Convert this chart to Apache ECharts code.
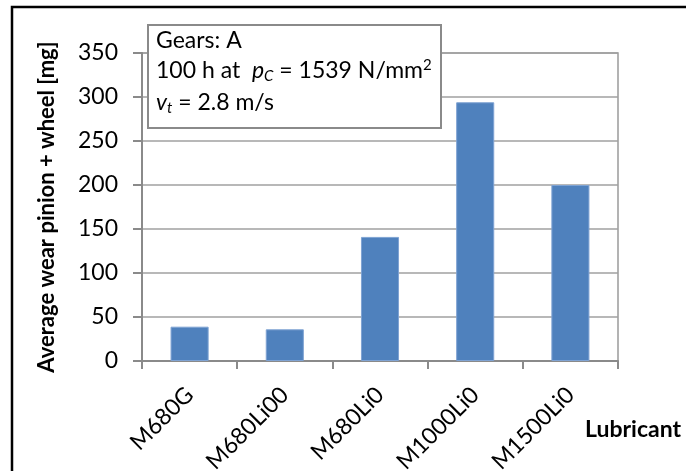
<!DOCTYPE html>
<html><head><meta charset="utf-8">
<script src="https://cdn.jsdelivr.net/npm/echarts@6/dist/echarts.min.js"></script>
<style>html,body{margin:0;padding:0;background:#fff}#c{width:686px;height:471px}</style>
</head><body><div id="c"></div>
<script>
const categories = ['M680G', 'M680Li00', 'M680Li0', 'M1000Li0', 'M1500Li0'];
const wear = [39, 36, 141, 294, 200];
const yTicks = { min: 0, max: 350, interval: 50 };
const yTitle = 'Average wear pinion + wheel [mg]';
const xTitle = 'Lubricant';

const FONT = 'Lato';
const chart = echarts.init(document.getElementById('c'), null, { renderer: 'canvas' });
chart.setOption({
  animation: false,
  backgroundColor: '#fff',
  grid: { left: 142, right: 68, top: 53, bottom: 110, show: true, borderColor: '#9a9a9a', borderWidth: 1.5, containLabel: false, outerBoundsMode: 'none' },
  xAxis: {
    type: 'category', data: categories,
    axisLine: { lineStyle: { color: '#8a8a8a', width: 2 } },
    axisTick: { show: true, length: 8, alignWithLabel: false, lineStyle: { color: '#8a8a8a', width: 2 } },
    axisLabel: { rotate: 45, color: '#000', fontFamily: FONT, fontSize: 23, margin: 30, interval: 0 }
  },
  yAxis: {
    type: 'value', min: yTicks.min, max: yTicks.max, interval: yTicks.interval,
    name: yTitle, nameLocation: 'middle', nameGap: 84,
    nameTextStyle: { fontFamily: FONT, fontWeight: 'bold', fontSize: 22, color: '#000' },
    axisLine: { show: true, lineStyle: { color: '#8a8a8a', width: 2 } },
    axisTick: { show: true, length: 9, lineStyle: { color: '#8a8a8a', width: 2 } },
    axisLabel: { color: '#000', fontFamily: FONT, fontSize: 23, margin: 24 },
    splitLine: { lineStyle: { color: '#a0a0a0', width: 1.5 } }
  },
  series: [{
    type: 'bar', data: wear, barWidth: '40%',
    itemStyle: { color: '#4f81bd', borderColor: '#7fa3d3', borderWidth: 1 }
  }],
  graphic: [
    { type: 'rect', z: 100, shape: { x: 12, y: 7, width: 690, height: 480 }, style: { fill: 'none', stroke: '#000', lineWidth: 2.5 } },
    { type: 'rect', z: 100, shape: { x: 148, y: 25, width: 293, height: 103 }, style: { fill: '#fff', stroke: '#8a8a8a', lineWidth: 2 } },
    { type: 'text', z: 101, left: 156, top: 29, style: { text: 'Gears: A', fontFamily: FONT, fontSize: 23, fill: '#000' } },
    { type: 'text', z: 101, left: 156, top: 58, style: {
        text: '100 h at  {i|p}{s|C} = 1539 N/mm{sup|2}', fontFamily: FONT, fontSize: 23, fill: '#000',
        rich: { i: { fontStyle: 'italic', fontFamily: FONT, fontSize: 23 },
                s: { fontStyle: 'italic', fontFamily: FONT, fontSize: 15, padding: [12, 0, 0, 0] },
                sup: { fontFamily: FONT, fontSize: 15, padding: [0, 0, 10, 0] } } } },
    { type: 'text', z: 101, left: 156, top: 91, style: {
        text: '{i|v}{s|t} = 2.8 m/s', fontFamily: FONT, fontSize: 23, fill: '#000',
        rich: { i: { fontStyle: 'italic', fontFamily: FONT, fontSize: 23 }, s: { fontStyle: 'italic', fontFamily: FONT, fontSize: 15, padding: [12, 0, 0, 0] } } } },
    { type: 'text', z: 101, left: 585, top: 418, style: { text: xTitle, fontFamily: FONT, fontSize: 23, fontWeight: 'bold', fill: '#000' } }
  ]
});
</script></body></html>
